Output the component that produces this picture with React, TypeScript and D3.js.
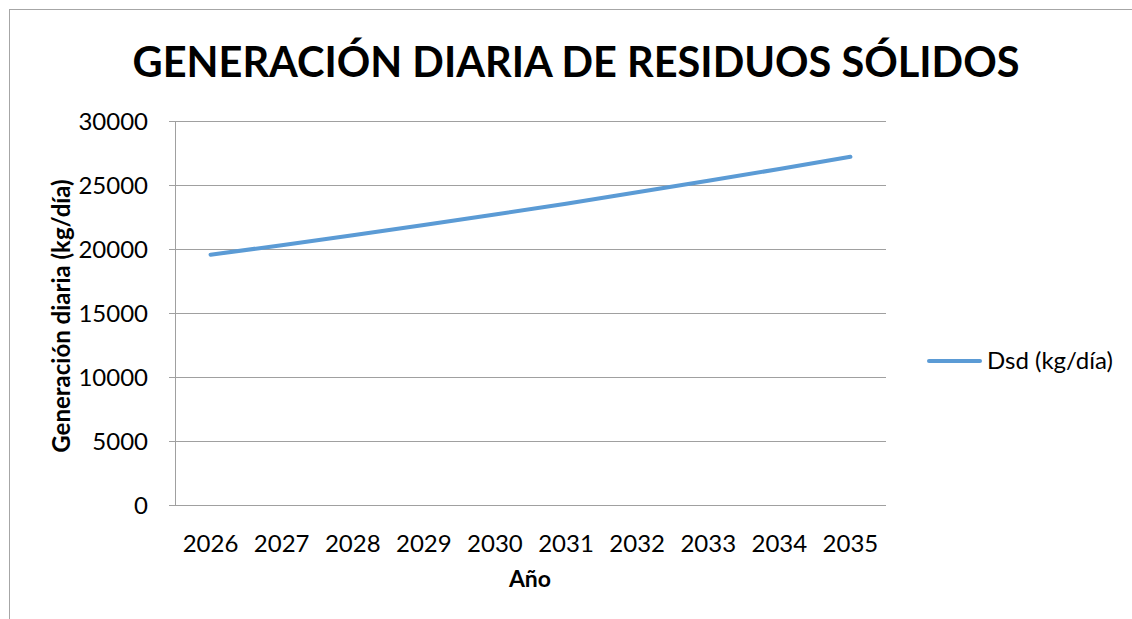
import React from "react";
import * as d3 from "d3";

const years = ["2026", "2027", "2028", "2029", "2030", "2031", "2032", "2033", "2034", "2035"];
const dsd = [19550, 20300, 21070, 21870, 22690, 23540, 24430, 25330, 26250, 27200];
const yTicks = [0, 5000, 10000, 15000, 20000, 25000, 30000];

const W = 1132;
const H = 619;
const margin = { left: 175, right: 246, top: 121, bottom: 114 };
const FONT = "Lato, 'Open Sans', sans-serif";

const App = () => {
  const x = d3
    .scaleBand()
    .domain(years)
    .range([margin.left, W - margin.right]);

  const y = d3
    .scaleLinear()
    .domain([0, 30000])
    .range([H - margin.bottom, margin.top]);

  const line = d3
    .line<number>()
    .x((d, i) => (x(years[i]) as number) + x.bandwidth() / 2)
    .y((d) => y(d));

  const x0 = margin.left;
  const x1 = W - margin.right;
  const yBottom = y(0);

  return (
    <svg
      width={W}
      height={H}
      style={{ position: "absolute", left: 0, top: 0, background: "#fff" }}
      fontFamily={FONT}
    >
      {/* chart frame */}
      <rect x={9.5} y={9.5} width={W + 20} height={H + 20} fill="none" stroke="#a6a6a6" />

      <text x={576} y={77} textAnchor="middle" fontSize={41.5} fontWeight="bold" fill="#000">
        GENERACIÓN DIARIA DE RESIDUOS SÓLIDOS
      </text>

      {/* gridlines */}
      {yTicks.map((t) => (
        <line
          key={t}
          x1={x0 - 6}
          x2={x1}
          y1={Math.round(y(t)) + 0.5}
          y2={Math.round(y(t)) + 0.5}
          stroke="#a0a0a0"
        />
      ))}
      <line x1={x0 + 0.5} x2={x0 + 0.5} y1={y(30000)} y2={yBottom + 0.5} stroke="#a0a0a0" />

      {yTicks.map((t) => (
        <text key={t} x={148} y={y(t) + 8.5} textAnchor="end" fontSize={24} fill="#000">
          {t}
        </text>
      ))}

      {years.map((yr) => (
        <text
          key={yr}
          x={(x(yr) as number) + x.bandwidth() / 2}
          y={552}
          textAnchor="middle"
          fontSize={24}
          fill="#000"
        >
          {yr}
        </text>
      ))}

      <path d={line(dsd) || ""} fill="none" stroke="#5b9bd5" strokeWidth={4} strokeLinecap="round" />

      <text x={530} y={587} textAnchor="middle" fontSize={23} fontWeight="bold" fill="#000">
        Año
      </text>
      <text
        transform={`translate(70, ${(margin.top + yBottom) / 2 + 3}) rotate(-90)`}
        textAnchor="middle"
        fontSize={24}
        fontWeight="bold"
        fill="#000"
      >
        Generación diaria (kg/día)
      </text>

      {/* legend */}
      <line x1={929} x2={980} y1={361} y2={361} stroke="#5b9bd5" strokeWidth={4} strokeLinecap="round" />
      <text x={987} y={369} fontSize={24} fill="#000">
        Dsd (kg/día)
      </text>
    </svg>
  );
};

export default App;
